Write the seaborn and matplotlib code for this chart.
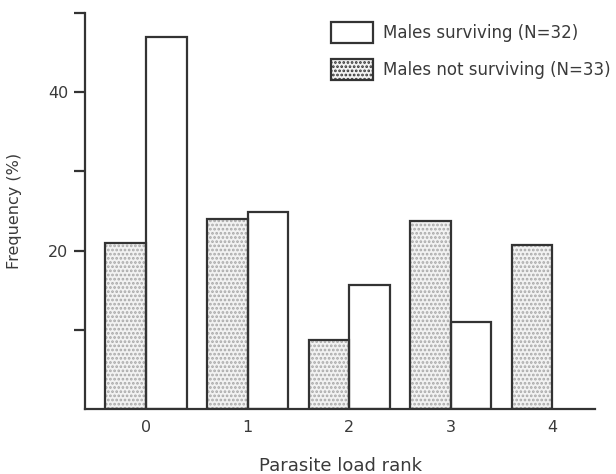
import matplotlib
matplotlib.use("Agg")
import matplotlib.pyplot as plt
import seaborn as sns
import pandas as pd
from matplotlib.patches import Patch

# Parasite load rank categories and frequency (%) per group
ranks = ["0", "1", "2", "3", "4"]
not_surviving = [21.0, 24.0, 8.7, 23.7, 20.7]
surviving = [46.9, 24.9, 15.7, 11.0, 0.0]
groups = ["Males not surviving (N=33)", "Males surviving (N=32)"]
y_ticks = [10, 20, 30, 40, 50]
y_ticklabels = ["", "20", "", "40", ""]

df = pd.DataFrame({
    "rank": ranks * 2,
    "freq": not_surviving + surviving,
    "group": [groups[0]] * len(ranks) + [groups[1]] * len(ranks),
})

sns.set_theme(style="ticks")
plt.rcParams["font.family"] = ["DejaVu Sans"]
ink = "#333333"
text_ink = "#3a3a3a"
stipple_face = "#f2f2f2"
stipple_dot = "#a8a8a8"
plt.rcParams["hatch.linewidth"] = 1.3

fig = plt.figure(figsize=(6.16, 4.74), dpi=100)
ax = fig.add_axes([0.138, 0.137, 0.828, 0.836])

# stippled fill layer
sns.barplot(data=df, x="rank", y="freq", hue="group", hue_order=groups,
            palette=[stipple_face, "white"], width=0.8, linewidth=0,
            edgecolor=stipple_dot, legend=False, ax=ax)
for bar in ax.containers[0]:
    bar.set_hatch("....")
for bar in ax.containers[1]:
    bar.set_edgecolor("none")

# outlines
sns.barplot(data=df, x="rank", y="freq", hue="group", hue_order=groups,
            fill=False, width=0.8, linewidth=1.6, edgecolor=ink,
            legend=False, ax=ax)
for bar in ax.containers[3]:
    if bar.get_height() == 0:
        bar.set_visible(False)

ax.set_xlim(-0.6, 4.42)
ax.set_ylim(0, 50)
ax.set_yticks(y_ticks)
ax.set_yticklabels(y_ticklabels)
ax.tick_params(axis="y", length=8, width=1.6, color=ink, labelsize=11.5,
               labelcolor=text_ink, pad=4)
ax.tick_params(axis="x", length=0, labelsize=11.5, labelcolor=text_ink, pad=8)
for side in ["top", "right"]:
    ax.spines[side].set_visible(False)
for side in ["left", "bottom"]:
    ax.spines[side].set_linewidth(1.6)
    ax.spines[side].set_color(ink)

ax.set_xlabel("Parasite load rank", fontsize=13, color=text_ink, labelpad=16)
ax.set_ylabel("Frequency (%)", fontsize=11.5, color=text_ink, labelpad=19)

handles = [
    Patch(facecolor="white", edgecolor=ink, linewidth=1.6),
    Patch(facecolor=stipple_face, edgecolor=ink, linewidth=1.6, hatch="...."),
]
leg = ax.legend(handles, [groups[1], groups[0]], loc="upper left",
                bbox_to_anchor=(0.46, 1.005), frameon=False, fontsize=12,
                handlelength=2.5, handleheight=1.55, labelspacing=0.95,
                handletextpad=0.6, labelcolor=text_ink, borderaxespad=0.3)

fig.savefig("out.png", dpi=100)
